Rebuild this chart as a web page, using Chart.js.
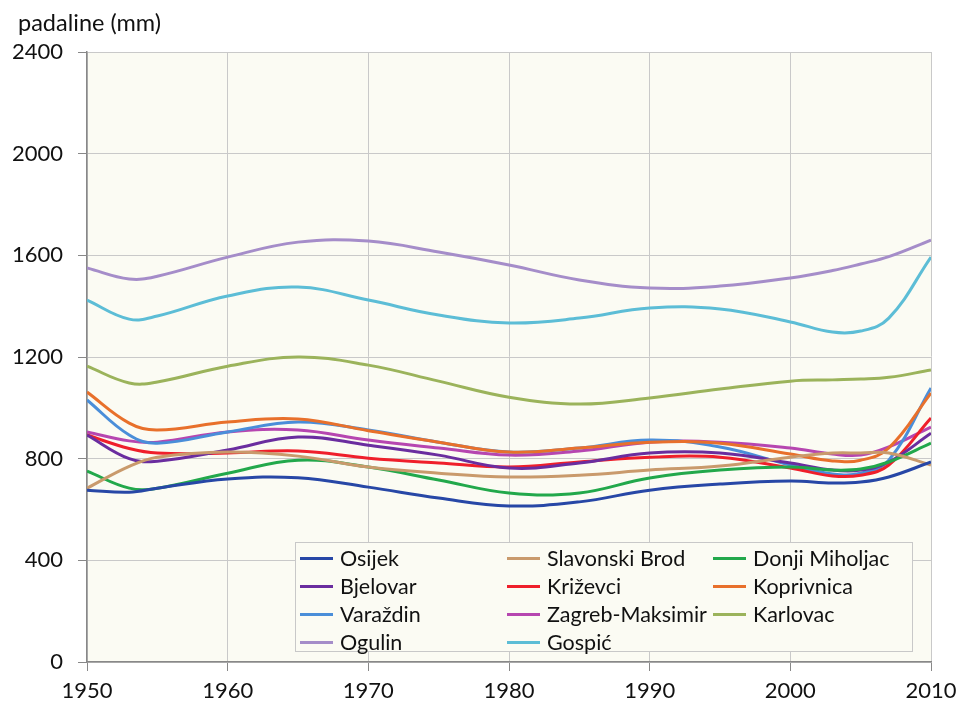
<!DOCTYPE html>
<html>
<head>
<meta charset="utf-8">
<script src="https://cdn.jsdelivr.net/npm/chart.js@4/dist/chart.umd.min.js"></script>
<style>
  html, body { margin: 0; padding: 0; background: #fff; }
  #wrap { position: relative; width: 959px; height: 706px; overflow: hidden; }
  #ylabel { position: absolute; left: 18px; top: 8px; font: 23.5px Lato, 'Open Sans', sans-serif; color: #111; }
  #legend {
    position: absolute; left: 295px; top: 542px; width: 618px; height: 110px;
    background: #fbfbf3; border: 1px solid #c8c8c8; box-sizing: border-box;
    display: grid; grid-template-columns: 207px 206px 200px; grid-auto-rows: 28px;
    padding: 1px 0 0 4px; font: 21.5px Lato, 'Open Sans', sans-serif; color: #111;
  }
  .item { display: flex; align-items: center; white-space: nowrap; }
  .sw { width: 33px; height: 3px; margin-right: 7px; flex: none; }
</style>
</head>
<body>
<div id="wrap">
  <canvas id="c" width="959" height="706"></canvas>
  <div id="ylabel">padaline (mm)</div>
  <div id="legend"></div>
</div>
<script>
const YEARS = [1950, 1953, 1955, 1960, 1965, 1970, 1975, 1980, 1985, 1990, 1995, 2000, 2003, 2005, 2007, 2010];

const osijek      = [676, 668, 684, 720, 725, 688, 645, 614, 630, 676, 700, 712, 704, 708, 728, 787];
const slavBrod    = [684, 770, 806, 826, 810, 767, 743, 728, 735, 755, 771, 806, 822, 822, 822, 775];
const donjiMih    = [751, 684, 684, 743, 794, 767, 716, 665, 665, 724, 755, 767, 755, 759, 787, 861];
const bjelovar    = [893, 800, 790, 834, 885, 853, 814, 763, 783, 822, 822, 783, 755, 755, 787, 900];
const krizevci    = [893, 840, 822, 822, 830, 802, 783, 767, 787, 806, 806, 763, 732, 735, 775, 960];
const koprivnica  = [1062, 940, 913, 944, 956, 910, 865, 826, 842, 865, 861, 818, 791, 794, 842, 1058];
const varazdin    = [1031, 893, 861, 905, 944, 913, 865, 826, 842, 873, 846, 775, 740, 743, 794, 1078];
const zagreb      = [905, 870, 865, 905, 913, 873, 842, 814, 830, 865, 865, 842, 818, 814, 846, 924];
const karlovac    = [1164, 1098, 1102, 1164, 1200, 1168, 1105, 1042, 1015, 1039, 1074, 1105, 1110, 1113, 1120, 1149];
const ogulin      = [1550, 1507, 1518, 1593, 1652, 1656, 1613, 1562, 1503, 1471, 1479, 1511, 1540, 1566, 1595, 1660];
const gospic      = [1424, 1349, 1361, 1440, 1475, 1424, 1365, 1334, 1353, 1393, 1389, 1338, 1298, 1302, 1353, 1593];

const NAMES = ['Osijek', 'Slavonski Brod', 'Donji Miholjac', 'Bjelovar', 'Križevci', 'Koprivnica',
  'Varaždin', 'Zagreb-Maksimir', 'Karlovac', 'Ogulin', 'Gospić'];
const SERIES = [osijek, slavBrod, donjiMih, bjelovar, krizevci, koprivnica, varazdin, zagreb, karlovac, ogulin, gospic];
const COLORS = ['#2747a6', '#c99a6c', '#22a84b', '#6a2d9f', '#ef1f2b', '#e8702b',
  '#4a8ed9', '#b646b0', '#9bb35b', '#a58dc9', '#5cbdd6'];

const FONT = "Lato, 'Open Sans', sans-serif";

// plot background
const bgPlugin = {
  id: 'plotBg',
  beforeDraw(chart) {
    const { ctx, chartArea: a } = chart;
    ctx.save();
    ctx.fillStyle = '#fbfbf3';
    ctx.fillRect(a.left, a.top, a.right - a.left, a.bottom - a.top);
    ctx.restore();
  }
};

const datasets = SERIES.map((vals, i) => ({
  label: NAMES[i],
  data: vals.map((v, j) => ({ x: YEARS[j], y: v })),
  borderColor: COLORS[i],
  backgroundColor: COLORS[i],
  borderWidth: 3,
  pointRadius: 0,
  tension: 0.4,
  order: i
}));

new Chart(document.getElementById('c'), {
  type: 'line',
  data: { datasets },
  plugins: [bgPlugin],
  options: {
    responsive: false,
    animation: false,
    layout: { padding: { top: 52, right: 28, left: 0, bottom: 0 } },
    plugins: { legend: { display: false }, tooltip: { enabled: false } },
    scales: {
      x: {
        type: 'linear', min: 1950, max: 2010,
        afterFit: s => { s.height = 44; s.paddingLeft = 0; s.paddingRight = 0; },
        ticks: { stepSize: 10, color: '#111', font: { family: FONT, size: 22 }, padding: 7,
          callback: v => String(v) },
        grid: { color: '#c9c9c9', tickLength: 9, tickColor: '#888' },
        border: { color: '#888', width: 1.5 }
      },
      y: {
        min: 0, max: 2400,
        afterFit: s => { s.width = 87; s.paddingTop = 0; s.paddingBottom = 0; },
        ticks: { stepSize: 400, color: '#111', font: { family: FONT, size: 22 }, padding: 15,
          callback: v => String(v) },
        grid: { color: '#c9c9c9', tickLength: 9, tickColor: '#888' },
        border: { color: '#888', width: 1.5 }
      }
    }
  }
});

const legend = document.getElementById('legend');
NAMES.forEach((n, i) => {
  const d = document.createElement('div');
  d.className = 'item';
  d.innerHTML = `<span class="sw" style="background:${COLORS[i]}"></span>${n}`;
  legend.appendChild(d);
});
</script>
</body>
</html>
